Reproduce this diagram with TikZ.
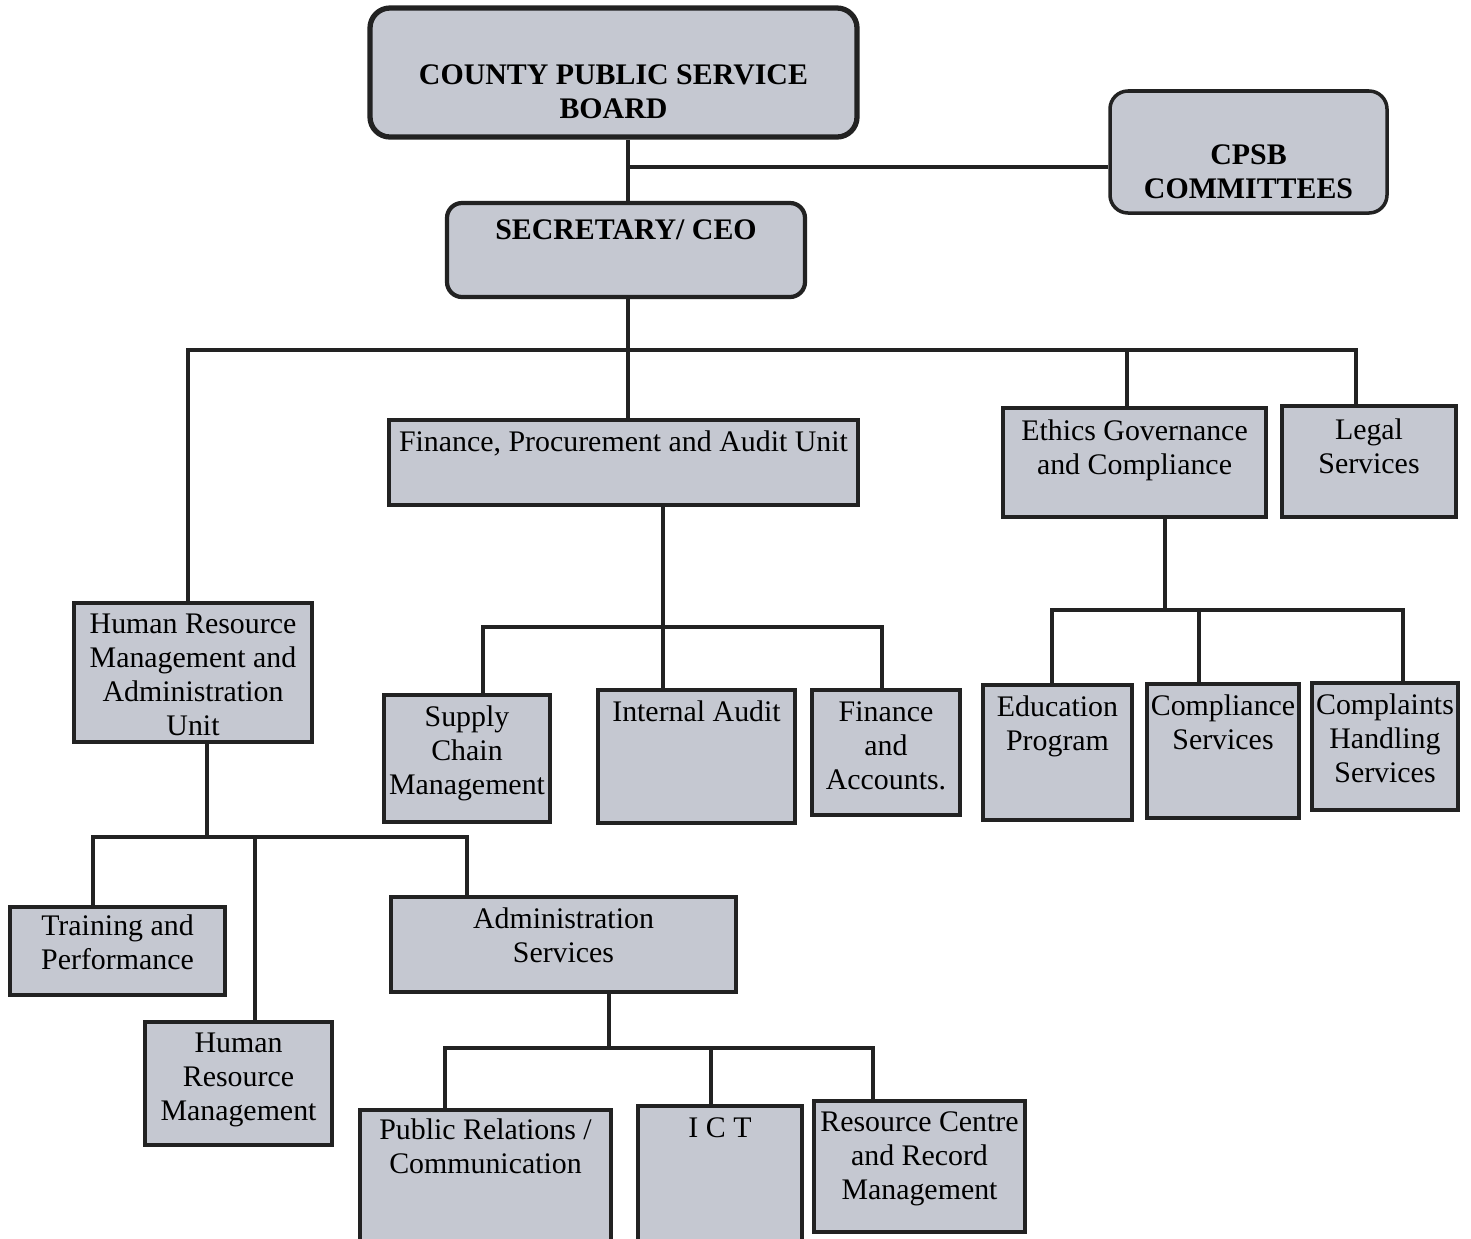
\documentclass[tikz,border=0pt]{standalone}
\usepackage{fontspec}
\setmainfont{Liberation Serif}
\usepackage{tikz}
\definecolor{boardgrey}{HTML}{C5C8D1}
\definecolor{boardline}{HTML}{222222}
\newcommand{\boxtext}[2][0mm]{\raisebox{\dimexpr#1-2mm\relax}[0pt][0pt]{\begin{tabular}{@{}c@{}}#2\end{tabular}}}

\begin{document}
\begin{tikzpicture}[x=0.2mm, y=-0.2mm,
    unit/.style={draw=boardline, fill=boardgrey, line width=2.2pt, inner sep=1pt,
      font=\fontsize{17}{19.4}\selectfont},
    head/.style={unit, rounded corners=3mm, font=\fontsize{17}{19.4}\selectfont\bfseries},
    link/.style={draw=boardline, line width=2pt}]
  \clip (0,0) rectangle (1471,1238);
  % board, committees and secretary
  \node[head, line width=3pt, rounded corners=4mm, minimum width=97.4mm, minimum height=25.8mm] (board) at (613.5,72.5) {\boxtext[-4mm]{COUNTY PUBLIC SERVICE\\BOARD}};
  \node[head, line width=2pt, rounded corners=3.6mm, minimum width=55.4mm, minimum height=24.4mm] (cpsb) at (1248.5,152) {\boxtext[-4mm]{CPSB\\COMMITTEES}};
  \node[head, line width=2.4pt, minimum width=71.6mm, minimum height=18.8mm] (ceo) at (626,250) {\boxtext[4mm]{SECRETARY/ CEO}};
  % units
  \node[unit, minimum width=93.8mm, minimum height=17mm] (fpa) at (623.5,462.5) {\boxtext[4mm]{Finance, Procurement and Audit Unit}};
  \node[unit, minimum width=52.6mm, minimum height=21.8mm] (ethics) at (1134.5,462.5) {\boxtext[2.8mm]{Ethics Governance\\and Compliance}};
  \node[unit, minimum width=34.8mm, minimum height=22.2mm] (legal) at (1369,461.5) {\boxtext[2.8mm]{Legal\\Services}};
  \node[unit, minimum width=47.6mm, minimum height=27.8mm] (hrma) at (193,672.5) {\boxtext[-0.6mm]{Human Resource\\Management and\\Administration\\Unit}};
  % finance sections
  \node[unit, minimum width=33.2mm, minimum height=25.4mm] (supply) at (467,758.5) {\boxtext[1.4mm]{Supply\\Chain\\Management}};
  \node[unit, minimum width=39.4mm, minimum height=26.6mm] (audit) at (696.5,756.5) {\boxtext[8.8mm]{Internal Audit}};
  \node[unit, minimum width=29.6mm, minimum height=25mm] (finacc) at (886,752.5) {\boxtext[1.2mm]{Finance\\and\\Accounts.}};
  % ethics sections
  \node[unit, minimum width=29.8mm, minimum height=27mm] (edu) at (1057.5,752.5) {\boxtext[5.6mm]{Education\\Program}};
  \node[unit, minimum width=30.4mm, minimum height=26.8mm] (compl) at (1223,751) {\boxtext[5.6mm]{Compliance\\Services}};
  \node[unit, minimum width=29.2mm, minimum height=25.4mm] (complaints) at (1385,746.5) {\boxtext[1.4mm]{Complaints\\Handling\\Services}};
  % human resource sections
  \node[unit, minimum width=43mm, minimum height=17.6mm] (training) at (117.5,951) {\boxtext[1.6mm]{Training and\\Performance}};
  \node[unit, minimum width=69mm, minimum height=19mm] (adminserv) at (563.5,944.5) {\boxtext[1.6mm]{Administration\\Services}};
  \node[unit, minimum width=37.4mm, minimum height=24.6mm] (hrm) at (238.5,1083.5) {\boxtext[1.2mm]{Human\\Resource\\Management}};
  % administration sections
  \node[unit, minimum width=50.2mm, minimum height=30mm] (pr) at (485.5,1185) {\boxtext[7.6mm]{Public Relations /\\Communication}};
  \node[unit, minimum width=32.8mm, minimum height=30.8mm] (ict) at (720,1183) {\boxtext[11mm]{I C T}};
  \node[unit, minimum width=42.2mm, minimum height=26.2mm] (rescentre) at (919.5,1166.5) {\boxtext[2mm]{Resource Centre\\and Record\\Management}};
  % bus points
  \coordinate (spine) at (628,167);
  \coordinate (topbus) at (628,350);
  \coordinate (fpabus) at (663,627);
  \coordinate (ethbus) at (1165,610);
  \coordinate (hrbus) at (207,837);
  \coordinate (admbus) at (609,1048);
  % connectors
  \draw[link] (spine |- board.south) -- (spine |- ceo.north);
  \draw[link] (spine) -- (cpsb.west |- spine);
  \draw[link] (topbus |- ceo.south) -- (topbus |- fpa.north);
  \draw[link] ([xshift=-1mm]hrma.north) |- (topbus);
  \draw[link] ([xshift=-1.5mm]ethics.north) |- (topbus);
  \draw[link] ([xshift=-2.6mm]legal.north) |- (topbus);
  \draw[link] (fpabus |- fpa.south) -- (fpabus |- audit.north);
  \draw[link] ([xshift=3.2mm]supply.north) |- (fpabus);
  \draw[link] ([xshift=-0.8mm]finacc.north) |- (fpabus);
  \draw[link] (ethbus |- ethics.south) -- (ethbus);
  \draw[link] ([xshift=-1.1mm]edu.north) |- (ethbus);
  \draw[link] ([xshift=-4.8mm]compl.north) |- (ethbus);
  \draw[link] ([xshift=3.6mm]complaints.north) |- (ethbus);
  \draw[link] (hrbus |- hrma.south) -- (hrbus);
  \draw[link] ([xshift=-4.9mm]training.north) |- (hrbus);
  \draw[link] ([xshift=3.3mm]hrm.north) |- (hrbus);
  \draw[link] ([xshift=-19.3mm]adminserv.north) |- (hrbus);
  \draw[link] (admbus |- adminserv.south) -- (admbus);
  \draw[link] ([xshift=-8.1mm]pr.north) |- (admbus);
  \draw[link] ([xshift=-1.8mm]ict.north) |- (admbus);
  \draw[link] ([xshift=-9.3mm]rescentre.north) |- (admbus);
\end{tikzpicture}
\end{document}
